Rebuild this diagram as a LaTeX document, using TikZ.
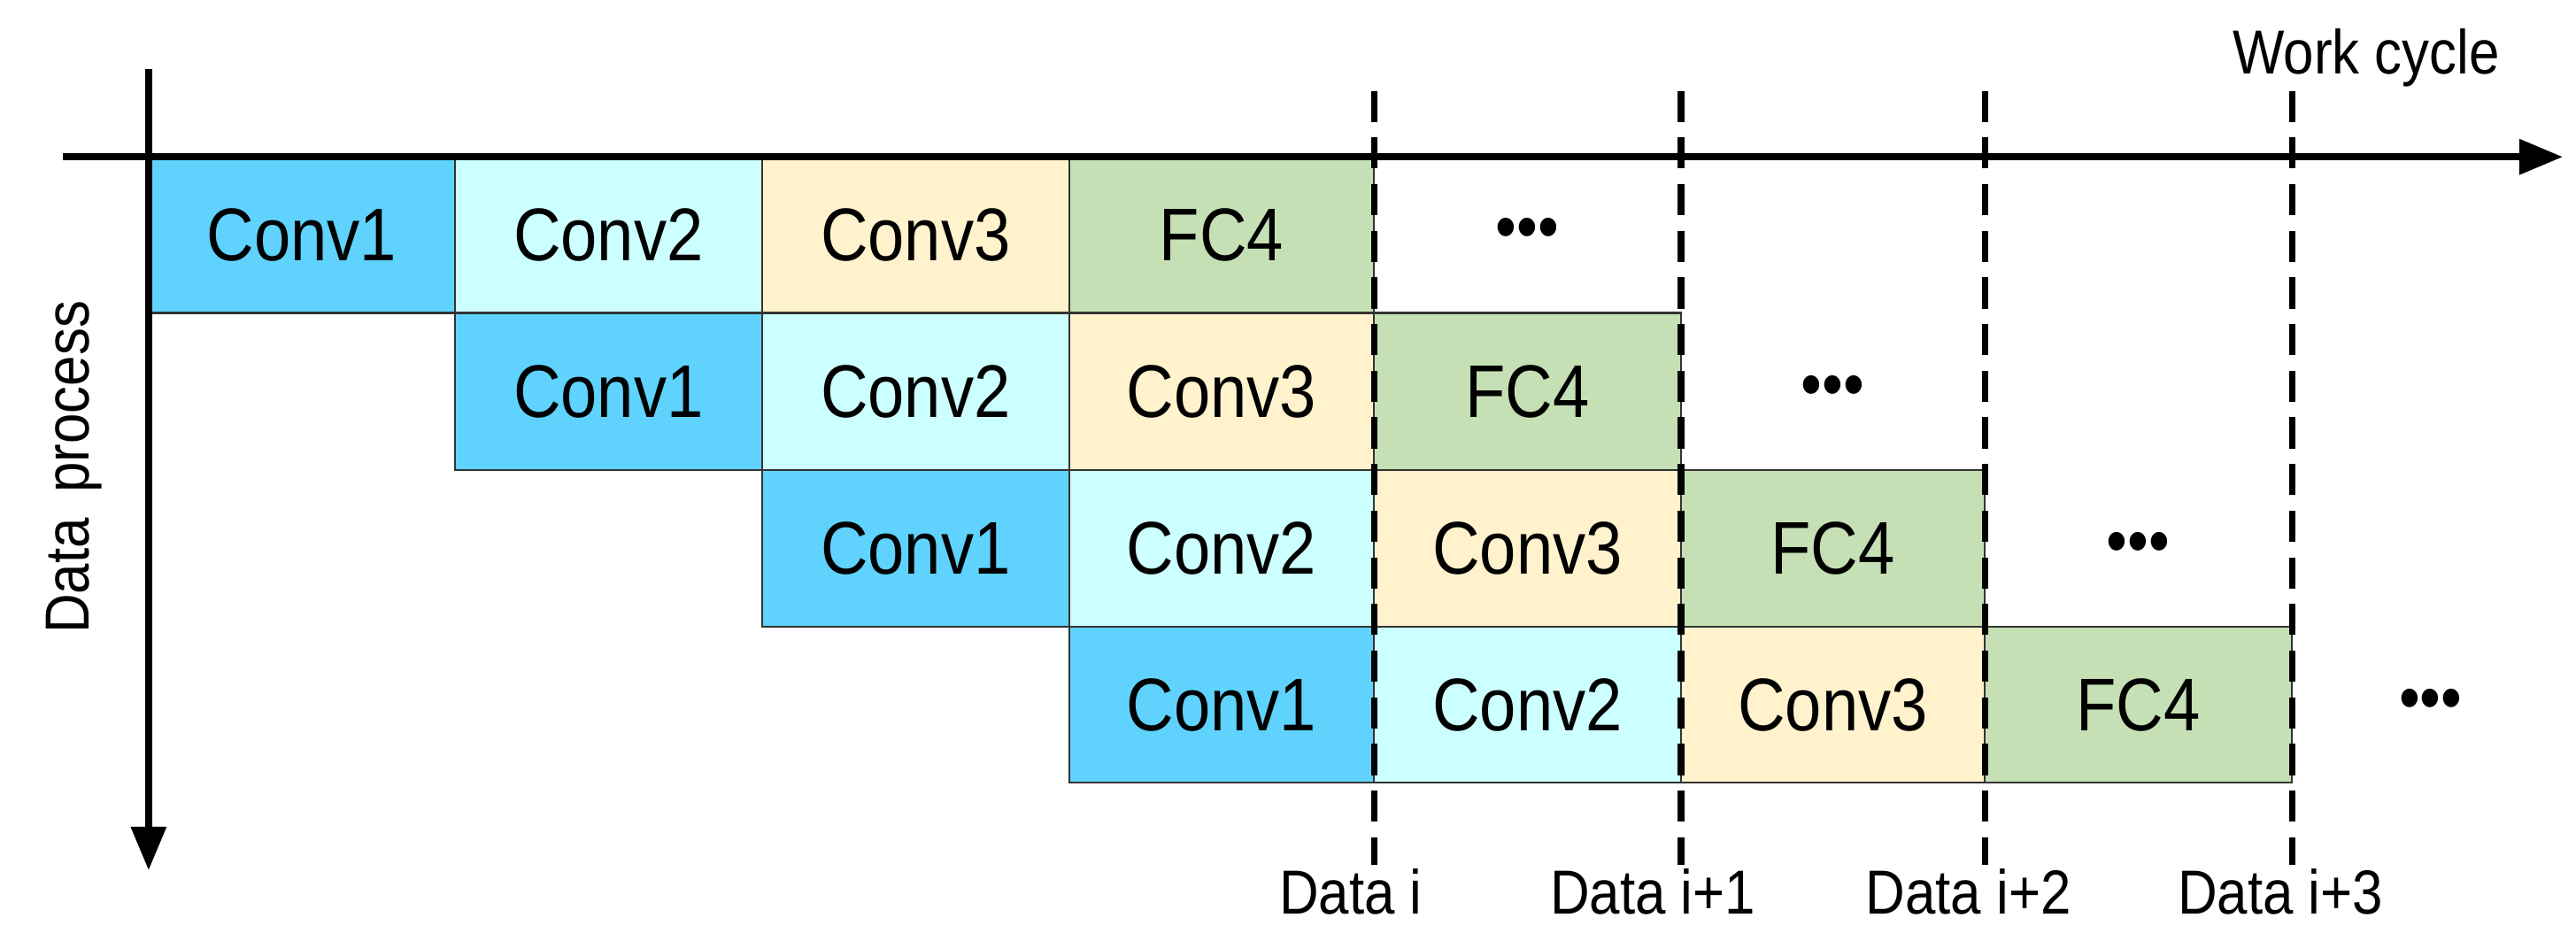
\documentclass[tikz,border=0pt]{standalone}
\usepackage{fontspec}
\setmainfont{Liberation Sans}[FakeStretch=0.88]
\usetikzlibrary{arrows.meta}
\definecolor{cA}{HTML}{5FD3FD}
\definecolor{cB}{HTML}{CCFFFF}
\definecolor{cC}{HTML}{FFF2CC}
\definecolor{cD}{HTML}{C5E0B4}
\begin{document}
\begin{tikzpicture}[x=0.018654cm,y=-0.018654cm,
  cell/.style={draw=black!80,line width=0.5pt,minimum width=185.6\pgflinewidth,inner sep=0pt,font=\fontsize{24}{28}\selectfont},
  ax/.style={line width=2.2pt,-{Triangle[length=14pt,width=11pt]}},
  dl/.style={line width=2pt,dash pattern=on 10pt off 5pt},
  lab/.style={font=\fontsize{20}{24}\selectfont,inner sep=0pt}]
\useasboundingbox (0,0) rectangle (1560,569.4);
\def\cx{{90,275.5,461.5,647.5,832,1018,1202,1388,1574}}
\def\ry{{95,189.5,284.5,379.5,474}}
\foreach \r in {0,...,3}{
  \foreach \c/\t/\col [count=\k from 0] in {Conv1/Conv1/cA,Conv2/Conv2/cB,Conv3/Conv3/cC,FC4/FC4/cD}{
    \pgfmathsetmacro\xa{\cx[\r+\k]}
    \pgfmathsetmacro\xb{\cx[\r+\k+1]}
    \pgfmathsetmacro\ya{\ry[\r]}
    \pgfmathsetmacro\yb{\ry[\r+1]}
    \filldraw[fill=\col,draw=black!80,line width=0.6pt] (\xa,\ya) rectangle (\xb,\yb);
    \node[font=\fontsize{24}{28}\selectfont,inner sep=0pt] (c\r\k) at ({(\xa+\xb)/2},{(\ya+\yb)/2}) {\t};
  }
}
\node[font=\fontsize{22}{26}\selectfont] (d0) at (925,142) {•••};
\node[font=\fontsize{22}{26}\selectfont] (d1) at (1110,237) {•••};
\node[font=\fontsize{22}{26}\selectfont] (d2) at (1295,332) {•••};
\node[font=\fontsize{22}{26}\selectfont] (d3) at (1472,427) {•••};
\coordinate (h0) at (38,95); \coordinate (h1) at (1552,95);
\coordinate (v0) at (90,42); \coordinate (v1) at (90,527);
\draw[ax] (h0) -- (h1);
\draw[ax] (v0) -- (v1);
\foreach \x [count=\i] in {832,1018,1202,1388}{
  \coordinate (t\i) at (\x,55); \coordinate (b\i) at (\x,524);
  \draw[dl] (t\i) -- (b\i);
}
\node[lab] (wc) at (1433,35) {Work cycle};
\node[lab,rotate=90] (dp) at (45,283) {Data\, process};
\node[lab] (l1) at (818,540) {Data i};
\node[lab] (l2) at (1001,540) {Data i+1};
\node[lab] (l3) at (1192,540) {Data i+2};
\node[lab] (l4) at (1381,540) {Data i+3};
\end{tikzpicture}
\end{document}
